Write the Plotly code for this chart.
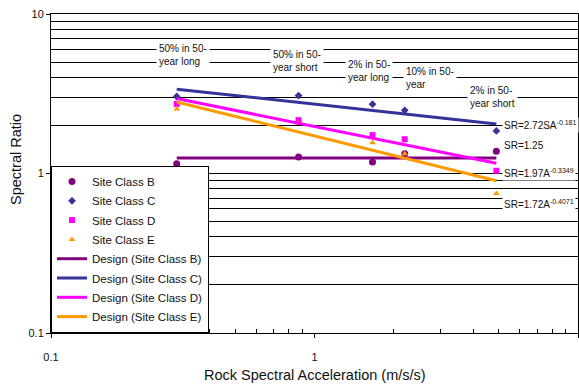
import plotly.graph_objects as go

# ---- data ----
rock_sa = [0.3, 0.87, 1.66, 2.2, 4.9]
site_b = [1.15, 1.27, 1.18, 1.33, 1.38]
site_c = [3.04, 3.08, 2.72, 2.49, 1.85]
site_d = [2.73, 2.16, 1.74, 1.64, 1.04]
site_e = [2.54, 2.06, 1.56, 1.33, 0.75]

design_x = [0.3, 4.9]
design_b = [1.25, 1.25]
design_c = [3.38, 2.04]
design_d = [2.95, 1.16]
design_e = [2.81, 0.90]

y_ticks = [0.1, 1, 10]
y_ticktext = ["0.1", "1", "10"]
x_ticks = [0.1, 1, 10]
x_ticktext = ["0.1", "1", "10"]
minor_vals = [0.2, 0.3, 0.4, 0.5, 0.6, 0.7, 0.8, 0.9, 2, 3, 4, 5, 6, 7, 8, 9]

FONT = "Liberation Sans, Arial, sans-serif"
PURPLE = "#800080"
NAVY = "#333399"
MAGENTA = "#FF00FF"
ORANGE = "#FF9900"

W, H = 579, 385
L, R, T, B = 51, 578, 14, 333


def px(x):
    return (x - L) / (R - L)


def py(y):
    return 1 - (y - T) / (B - T)


fig = go.Figure()
series = [
    (site_b, "Site Class B", "circle", 7, PURPLE),
    (site_c, "Site Class C", "diamond", 6, NAVY),
    (site_d, "Site Class D", "square", 6, MAGENTA),
    (site_e, "Site Class E", "triangle-up", 6, ORANGE),
]
for vals, name, sym, size, col in series:
    fig.add_trace(go.Scatter(x=rock_sa, y=vals, mode="markers", name=name, legendgroup=name,
                             marker=dict(symbol=sym, size=size, color=col)))
designs = [
    (design_b, "Design (Site Class B)", PURPLE),
    (design_c, "Design (Site Class C)", NAVY),
    (design_d, "Design (Site Class D)", MAGENTA),
    (design_e, "Design (Site Class E)", ORANGE),
]
for vals, name, col in designs:
    fig.add_trace(go.Scatter(x=design_x, y=vals, mode="lines", name=name, legendgroup=name,
                             line=dict(color=col, width=3)))

# period labels (white boxes over grid)
labels = [
    ("50% in 50-<br>year long", 156, 40),
    ("50% in 50-<br>year short", 270, 46),
    ("2% in 50-<br>year long", 345, 56),
    ("10% in 50-<br>year", 403, 63),
    ("2% in 50-<br>year short", 467, 82),
]
for txt, x0, y0 in labels:
    fig.add_annotation(text=txt, xref="paper", yref="paper", x=px(x0), y=py(y0),
                       xanchor="left", yanchor="top", align="left", showarrow=False,
                       bgcolor="white", borderpad=2,
                       font=dict(family=FONT, size=10, color="#111"))

eqs = [
    ("SR=2.72SA<sup>-0.181</sup>", 125),
    ("SR=1.25", 145.5),
    ("SR=1.97A<sup>-0.3349</sup>", 172.5),
    ("SR=1.72A<sup>-0.4071</sup>", 203.5),
]
for txt, yc in eqs:
    fig.add_annotation(text=txt, xref="paper", yref="paper", x=px(502), y=py(yc),
                       xanchor="left", yanchor="middle", align="left", showarrow=False,
                       bgcolor="white", borderpad=1,
                       font=dict(family=FONT, size=10, color="#111"))

# axis titles
fig.add_annotation(text="Rock Spectral Acceleration (m/s/s)", xref="paper", yref="paper",
                   x=px(314.5), y=py(375), xanchor="center", yanchor="middle",
                   showarrow=False, font=dict(family=FONT, size=14.5, color="#111"))
fig.add_annotation(text="Spectral Ratio", xref="paper", yref="paper",
                   x=px(16), y=py(160), xanchor="center", yanchor="middle", textangle=-90,
                   showarrow=False, font=dict(family=FONT, size=14.5, color="#111"))

fig.update_layout(
    width=W, height=H,
    margin=dict(l=L, r=W - R, t=T, b=H - B, pad=0),
    paper_bgcolor="white", plot_bgcolor="white",
    font=dict(family=FONT, size=11, color="#111"),
    showlegend=True,
    legend=dict(x=0, y=0, xanchor="left", yanchor="bottom",
                bgcolor="white", bordercolor="black", borderwidth=1,
                font=dict(family=FONT, size=11.5, color="#111"),
                tracegroupgap=0.3, itemwidth=30),
)

fig.update_xaxes(type="log", range=[-1, 1], tickmode="array", tickvals=x_ticks,
                 ticktext=x_ticktext, ticks="outside", ticklen=4, tickcolor="black",
                 showgrid=False, zeroline=False, showline=True, linecolor="black",
                 linewidth=1, mirror=True, ticklabelstandoff=10,
                 minor=dict(tickvals=minor_vals, ticks="inside", ticklen=4,
                            tickcolor="black", showgrid=False))
fig.update_yaxes(type="log", range=[-1, 1], tickmode="array", tickvals=y_ticks,
                 ticktext=y_ticktext, ticks="outside", ticklen=4, tickcolor="black",
                 showgrid=True, gridcolor="black", gridwidth=1, zeroline=False,
                 showline=True, linecolor="black", linewidth=1, mirror=True,
                 minor=dict(tickvals=minor_vals, ticks="", showgrid=True,
                            gridcolor="black", gridwidth=1))

fig.write_html("out.html")
